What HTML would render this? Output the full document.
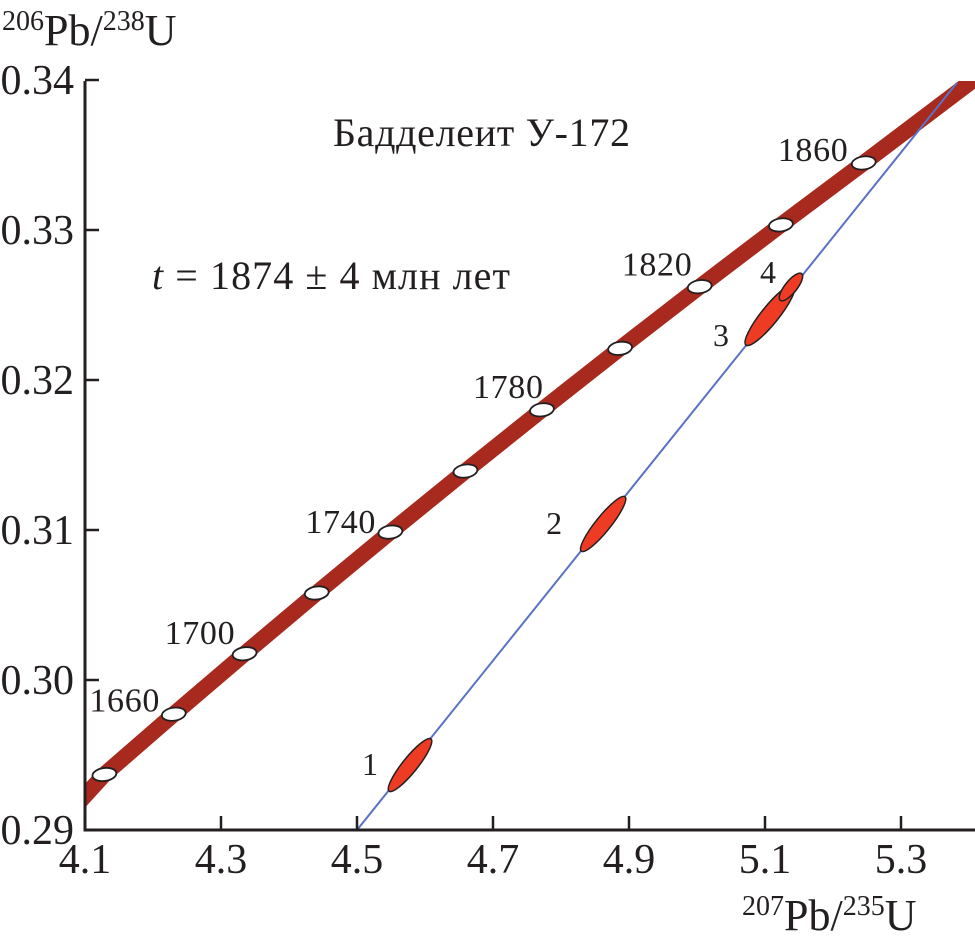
<!DOCTYPE html>
<html><head><meta charset="utf-8"><style>
html,body{margin:0;padding:0;background:#fff;}
svg text{font-family:"Liberation Serif","Noto Serif CJK SC",serif;fill:#231f20;}
</style></head><body>
<svg id="chart" width="975" height="946" viewBox="0 0 975 946" xmlns="http://www.w3.org/2000/svg">
<defs><clipPath id="plot"><rect x="85" y="81" width="890" height="749"/></clipPath></defs>
<g id="plotarea" clip-path="url(#plot)"></g>
<g id="axes"></g>
<text x="333" y="146" font-size="40" textLength="297">Бадделеит У-172</text>
<text x="152" y="289" font-size="40" textLength="358"><tspan font-style="italic">t</tspan> = 1874 ± 4 млн лет</text>
<text x="2" y="45" font-size="44"><tspan font-size="28" dy="-15">206</tspan><tspan dy="15">Pb/</tspan><tspan font-size="28" dy="-15">238</tspan><tspan dy="15">U</tspan></text>
<text x="742" y="930" font-size="44"><tspan font-size="28" dy="-15">207</tspan><tspan dy="15">Pb/</tspan><tspan font-size="28" dy="-15">235</tspan><tspan dy="15">U</tspan></text>
</svg>
<script>
const xTicks=[4.1,4.3,4.5,4.7,4.9,5.1,5.3];
const yTicks=[0.29,0.30,0.31,0.32,0.33,0.34];
const concAges=[1660,1680,1700,1720,1740,1760,1780,1800,1820,1840,1860];
const concX=[4.1285,4.2306,4.3347,4.4408,4.5491,4.6595,4.7720,4.8869,5.0040,5.1234,5.2452];
const concY=[0.29370,0.29772,0.30175,0.30580,0.30986,0.31393,0.31801,0.32211,0.32622,0.33034,0.33447];
const bandX=[4.05,4.1285,4.2306,4.3347,4.4408,4.5491,4.6595,4.7720,4.8869,5.0040,5.1234,5.2452,5.45];
const bandY=[0.2898,0.29370,0.29772,0.30175,0.30580,0.30986,0.31393,0.31801,0.32211,0.32622,0.33034,0.33447,0.3415];
const labelAges=[1660,1700,1740,1780,1820,1860];
const discX=[4.5,5.382];
const discY=[0.29,0.3398];
const ellLabels=['1','2','3','4'];
const ellX=[4.578,4.862,5.1074,5.1382];
const ellY=[0.29433,0.31040,0.32433,0.32620];
const ellA=[0.00235,0.00245,0.0027,0.0012];
const ellB=[0.0005,0.0005,0.00058,0.0004];

const X0=85,PX=680,Y0=830,PY=15000;
const sx=v=>X0+(v-4.1)*PX, sy=v=>Y0-(v-0.29)*PY;
const NS='http://www.w3.org/2000/svg';
function mk(t,a,p){const e=document.createElementNS(NS,t);for(const k in a)e.setAttribute(k,a[k]);p.appendChild(e);return e;}
const svg=document.getElementById('chart'),pa=document.getElementById('plotarea'),ax=document.getElementById('axes');

let pts=bandX.map((x,i)=>sx(x)+','+sy(bandY[i])).join(' ');
const band=mk('polyline',{points:pts,fill:'none',stroke:'#a8291d','stroke-width':16},pa);



const dl=mk('line',{x1:sx(discX[0]),y1:sy(discY[0]),x2:sx(discX[1]),y2:sy(discY[1]),stroke:'#5b72c4','stroke-width':2},pa);



const ang=Math.atan2(sy(discY[1])-sy(discY[0]),sx(discX[1])-sx(discX[0]))*180/Math.PI;
const lblOff=[[-48,10],[-57,10],[-57,31],[-31,-4]];
ellX.forEach((x,i)=>{
  const cx=sx(x),cy=sy(ellY[i]);
  const e=mk('ellipse',{cx:cx,cy:cy,rx:ellA[i]*PY*0.95,ry:ellB[i]*PY,fill:'#ee3b24',stroke:'#231f20','stroke-width':1.5,transform:`rotate(${ang} ${cx} ${cy})`},pa);
  
  
  const t=mk('text',{x:cx+lblOff[i][0],y:cy+lblOff[i][1],'font-size':32},svg);
  t.textContent=ellLabels[i];
  
  
});

concX.forEach((x,i)=>{
  const e=mk('ellipse',{cx:sx(x),cy:sy(concY[i]),rx:12,ry:6.5,fill:'#fff',stroke:'#231f20','stroke-width':1.8,transform:`rotate(-8 ${sx(x)} ${sy(concY[i])})`},pa);
  
  
});
const lo={1660:[-15,-63],1700:[-80,-10],1740:[-85,1],1780:[-69,-12],1820:[-78,-11],1860:[-86,-2]};
labelAges.forEach(a=>{
  const i=concAges.indexOf(a);
  const t=mk('text',{x:sx(concX[i])+lo[a][0],y:sy(concY[i])+lo[a][1],'font-size':34,textLength:70},svg);
  t.textContent=a;
  
  
});

const axl=mk('path',{d:`M85,81 V830 H975`,fill:'none',stroke:'#231f20','stroke-width':3},ax);


xTicks.forEach(v=>{
  const tk=mk('line',{x1:sx(v),y1:830,x2:sx(v),y2:816,stroke:'#231f20','stroke-width':2.5},ax);
  
  
  const t=mk('text',{x:sx(v),y:873,'font-size':42,'text-anchor':'middle'},ax);
  t.textContent=v.toFixed(1);
  
  
});
yTicks.forEach(v=>{
  const tk=mk('line',{x1:85,y1:sy(v),x2:99,y2:sy(v),stroke:'#231f20','stroke-width':2.5},ax);
  
  
  const t=mk('text',{x:74,y:sy(v)+14,'font-size':42,'text-anchor':'end'},ax);
  t.textContent=v.toFixed(2);
  
  
});
</script>
</body></html>
